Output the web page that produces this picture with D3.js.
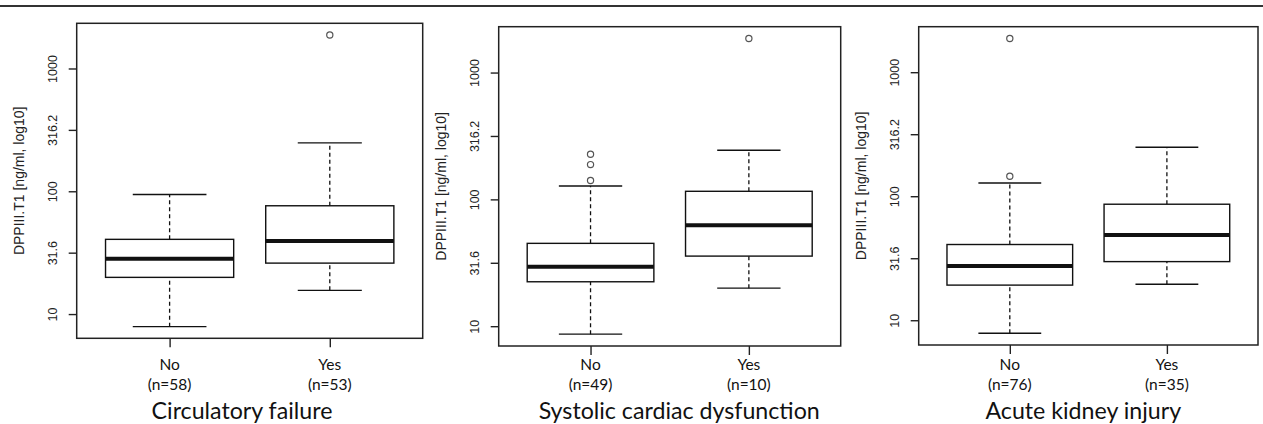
<!DOCTYPE html>
<html>
<head>
<meta charset="utf-8">
<script src="https://cdn.jsdelivr.net/npm/d3@7"></script>
<style>
  html, body { margin: 0; padding: 0; background: #fff; }
  svg { display: block; }
</style>
</head>
<body>
<svg id="chart" width="1263" height="424"></svg>
<script>
// ---------------- data ----------------
const categories = ["No", "Yes"];
const panelTitles = ["Circulatory failure", "Systolic cardiac dysfunction", "Acute kidney injury"];
const groupCounts = [[58, 53], [49, 10], [76, 35]];
const yAxisLabel = "DPPIII.T1 [ng/ml, log10]";
const yTickValues = [10, 31.6228, 100, 316.228, 1000];
const yTickLabels = ["10", "31.6", "100", "316.2", "1000"];

// five-number summaries: [lower whisker, Q1, median, Q3, upper whisker]
const circulatoryStats = [[7.9, 19.9, 28.2, 40.6, 94.2], [15.6, 26.0, 39.3, 76.2, 248]];
const circulatoryOutliers = [[], [1875]];
const systolicStats = [[8.65, 22.4, 29.4, 45.0, 127.5], [19.95, 35.7, 62.4, 115.8, 244]];
const systolicOutliers = [[141, 188, 227], [1855]];
const akiStats = [[7.86, 19.2, 27.4, 40.8, 128], [19.5, 29.7, 48.7, 86.2, 248]];
const akiOutliers = [[145, 1870], []];

const panelStats = [circulatoryStats, systolicStats, akiStats];
const panelOutliers = [circulatoryOutliers, systolicOutliers, akiOutliers];

// ---------------- layout (style, not data) ----------------
const layout = [
  { left: 76.7, right: 422.7, top: 23.3, bottom: 338.3, titleX: 242.0, staple: [0.46, 0.40] },
  { left: 498.7, right: 840.7, top: 26.7, bottom: 346.0, titleX: 679.2, staple: [0.40, 0.40] },
  { left: 918.7, right: 1258.0, top: 26.7, bottom: 345.0, titleX: 1083.3, staple: [0.40, 0.40] }
];

const svg = d3.select("#chart");
const ink = "#111";

// top rule
svg.append("line")
  .attr("x1", 0).attr("x2", 1263).attr("y1", 6).attr("y2", 6)
  .attr("stroke", "#333").attr("stroke-width", 2);

panelStats.forEach((stats, p) => {
  const L = layout[p];
  const outs = panelOutliers[p];
  const g = svg.append("g");

  // y domain like R: data range in log space, extended 4%
  const allVals = stats.flat().concat(outs.flat());
  const lo = Math.log10(d3.min(allVals)), hi = Math.log10(d3.max(allVals));
  const ext = (hi - lo) * 0.04;
  const y = d3.scaleLog().domain([Math.pow(10, lo - ext), Math.pow(10, hi + ext)])
    .range([L.bottom, L.top]);
  const x = d3.scaleLinear().domain([0.42, 2.58]).range([L.left, L.right]);

  // boxes
  stats.forEach((s, i) => {
    const cx = x(i + 1);
    const hw = (x(1.4) - x(1));                  // half box width (0.4 units)
    const sw = (x(1 + L.staple[i] / 2) - x(1));  // half staple width
    const bg = g.append("g");
    // whiskers (dashed)
    bg.append("line").attr("x1", cx).attr("x2", cx).attr("y1", y(s[0])).attr("y2", y(s[1]))
      .attr("stroke", ink).attr("stroke-width", 1.3).attr("stroke-dasharray", "4,3");
    bg.append("line").attr("x1", cx).attr("x2", cx).attr("y1", y(s[3])).attr("y2", y(s[4]))
      .attr("stroke", ink).attr("stroke-width", 1.3).attr("stroke-dasharray", "4,3");
    // staples
    [s[0], s[4]].forEach(v => {
      bg.append("line").attr("x1", cx - sw).attr("x2", cx + sw).attr("y1", y(v)).attr("y2", y(v))
        .attr("stroke", ink).attr("stroke-width", 1.4);
    });
    // box
    bg.append("rect").attr("x", cx - hw).attr("width", 2 * hw)
      .attr("y", y(s[3])).attr("height", y(s[1]) - y(s[3]))
      .attr("fill", "#fff").attr("stroke", ink).attr("stroke-width", 1.4);
    // median
    bg.append("line").attr("x1", cx - hw).attr("x2", cx + hw).attr("y1", y(s[2])).attr("y2", y(s[2]))
      .attr("stroke", ink).attr("stroke-width", 4);
    // outliers
    bg.selectAll("circle").data(outs[i]).enter().append("circle")
      .attr("cx", cx).attr("cy", d => y(d)).attr("r", 3.1)
      .attr("fill", "none").attr("stroke", "#555").attr("stroke-width", 1.2);
  });

  // frame
  g.append("rect").attr("x", L.left).attr("y", L.top)
    .attr("width", L.right - L.left).attr("height", L.bottom - L.top)
    .attr("fill", "none").attr("stroke", "#222").attr("stroke-width", 1.5);

  // y axis
  const yAxis = d3.axisLeft(y).tickValues(yTickValues)
    .tickFormat((d, i) => yTickLabels[i]).tickSize(8).tickPadding(0);
  const ya = g.append("g").attr("transform", `translate(${L.left},0)`).call(yAxis);
  ya.select(".domain").remove();
  ya.selectAll(".tick line").attr("stroke", "#222").attr("stroke-width", 1.4);
  ya.selectAll(".tick text")
    .attr("x", null).attr("dy", "0.36em")
    .attr("transform", "translate(-24.2,0) rotate(-90)")
    .attr("text-anchor", "middle")
    .attr("fill", "#222")
    .style("font-family", "'Liberation Sans', Arial, sans-serif")
    .style("font-size", "12.5px");

  // x axis
  const xAxis = d3.axisBottom(x).tickValues([1, 2]).tickFormat("").tickSize(9);
  const xa = g.append("g").attr("transform", `translate(0,${L.bottom})`).call(xAxis);
  xa.select(".domain").remove();
  xa.selectAll(".tick line").attr("stroke", "#222").attr("stroke-width", 1.4);

  // x category labels
  categories.forEach((c, i) => {
    const t = g.append("text").attr("x", x(i + 1)).attr("text-anchor", "middle")
      .attr("fill", "#111")
      .style("font-family", "Lato, 'Open Sans', sans-serif").style("font-size", "15.5px");
    t.append("tspan").attr("x", x(i + 1)).attr("y", 369.5).text(c);
    t.append("tspan").attr("x", x(i + 1)).attr("y", 389.5).text(`(n=${groupCounts[p][i]})`);
  });

  // y label
  g.append("text")
    .attr("transform", `translate(${L.left - 56.5},${(L.top + L.bottom) / 2}) rotate(-90)`)
    .attr("text-anchor", "middle").attr("dy", "0.3em")
    .attr("fill", "#222")
    .style("font-family", "'Liberation Sans', Arial, sans-serif").style("font-size", "14px")
    .text(yAxisLabel);

  // panel title
  g.append("text").attr("x", L.titleX).attr("y", 419).attr("text-anchor", "middle")
    .attr("fill", "#111")
    .style("font-family", "Lato, 'Open Sans', sans-serif").style("font-size", "23.2px")
    .text(panelTitles[p]);
});
</script>
</body>
</html>
